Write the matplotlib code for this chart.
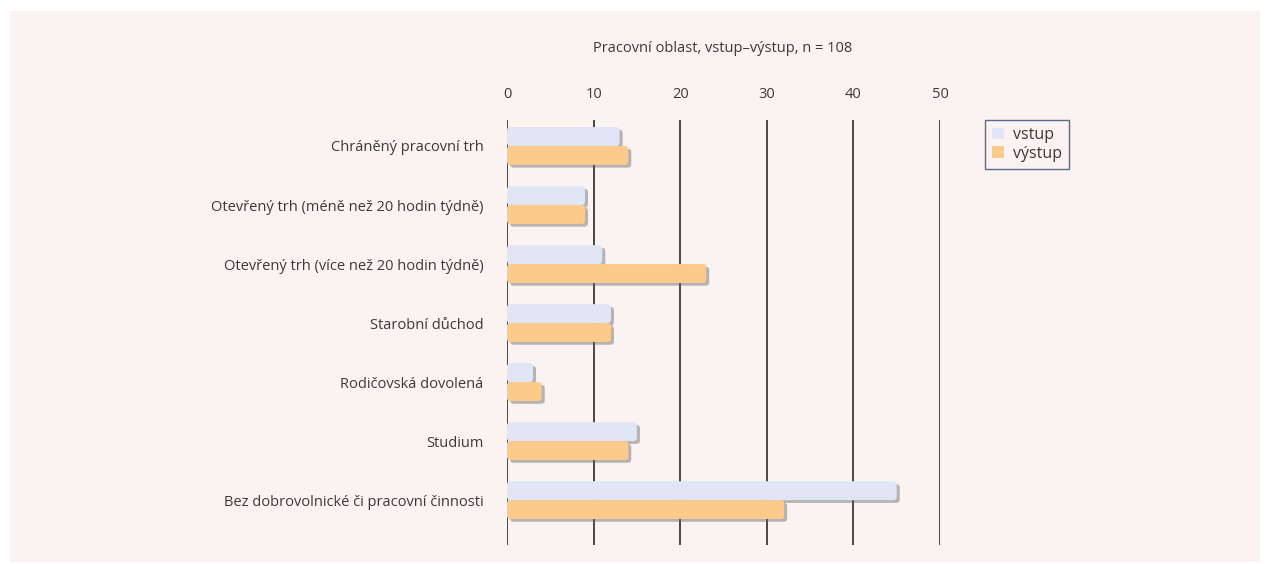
import matplotlib
matplotlib.use("Agg")
import matplotlib.pyplot as plt
import matplotlib.patheffects as pe
from matplotlib.patches import FancyBboxPatch, Rectangle, Patch
import numpy as np

plt.rcParams["font.family"] = ["Open Sans", "DejaVu Sans"]

# --- data ---
categories = [
    "Chráněný pracovní trh",
    "Otevřený trh (méně než 20 hodin týdně)",
    "Otevřený trh (více než 20 hodin týdně)",
    "Starobní důchod",
    "Rodičovská dovolená",
    "Studium",
    "Bez dobrovolnické či pracovní činnosti",
]
vstup = [13, 9, 11, 12, 3, 15, 45]
vystup = [14, 9, 23, 12, 4, 14, 32]
xticks = [0, 10, 20, 30, 40, 50]
title = "Pracovní oblast, vstup–výstup, n = 108"

C_VSTUP = "#e0e6f5"
C_VYSTUP = "#fccb8c"
TEXT = "#3a3a3a"
BG = "#faf3f1"

W, H = 1269, 564
fig = plt.figure(figsize=(W / 100, H / 100), dpi=100)
fig.patch.set_facecolor("white")
fig.patches.append(Rectangle((10 / W, 2 / H), 1250 / W, 551 / H,
                             transform=fig.transFigure, facecolor=BG,
                             edgecolor="none", zorder=-10))

ax = fig.add_axes([507 / W, (H - 545) / H, (940 - 507) / W, (545 - 120) / H])
ax.set_facecolor("none")
for s in ax.spines.values():
    s.set_visible(False)

y = np.arange(len(categories))
bh = 0.32
ax.set_xlim(0, 50)
ax.set_ylim(6.76, -0.44)

# gridlines
for t in xticks:
    ax.axvline(t, color="#2b2b2b", lw=1.2, zorder=1)

shadow = [pe.SimplePatchShadow(offset=(2.2, -2), shadow_rgbFace="#666666", alpha=0.45),
          pe.Normal()]
bars_v = ax.barh(y - bh / 2, vstup, height=bh, color=C_VSTUP)
bars_o = ax.barh(y + bh / 2, vystup, height=bh, color=C_VYSTUP)

# replace plain bars with rounded ones (same geometry)
aspect = (1 / 59.0) / (1 / 8.66)
for bars in (bars_v, bars_o):
    for b in bars:
        b.set_visible(False)
        p = FancyBboxPatch((b.get_x(), b.get_y()), b.get_width(), b.get_height(),
                           boxstyle="round,pad=0,rounding_size=0.4",
                           mutation_aspect=aspect,
                           facecolor=b.get_facecolor(), edgecolor="none",
                           zorder=2, path_effects=shadow)
        ax.add_patch(p)

ax.set_yticks(y)
ax.set_yticklabels(categories, fontsize=10.5, color=TEXT)
ax.set_xticks(xticks)
ax.set_xticklabels([str(t) for t in xticks], fontsize=10.5, color=TEXT)
ax.xaxis.tick_top()
ax.tick_params(axis="x", length=0, pad=13)
ax.tick_params(axis="y", length=0, pad=17)

fig.text(723 / W, 1 - 48 / H, title, ha="center", va="center",
         fontsize=10.5, color=TEXT)

leg = ax.legend(handles=[Patch(facecolor=C_VSTUP, label="vstup"),
                         Patch(facecolor=C_VYSTUP, label="výstup")],
                loc="upper left", bbox_to_anchor=(985 / W, 1 - 120 / H),
                bbox_transform=fig.transFigure, fontsize=11.5,
                frameon=True, fancybox=False, borderpad=0.45,
                handlelength=0.75, handleheight=0.75, handletextpad=0.55,
                labelspacing=0.15, borderaxespad=0)
leg.get_frame().set_edgecolor("#2f4a7a")
leg.get_frame().set_linewidth(1.0)
leg.get_frame().set_facecolor(BG)
for t in leg.get_texts():
    t.set_color(TEXT)

fig.savefig("out.png", dpi=100, facecolor=fig.get_facecolor())
